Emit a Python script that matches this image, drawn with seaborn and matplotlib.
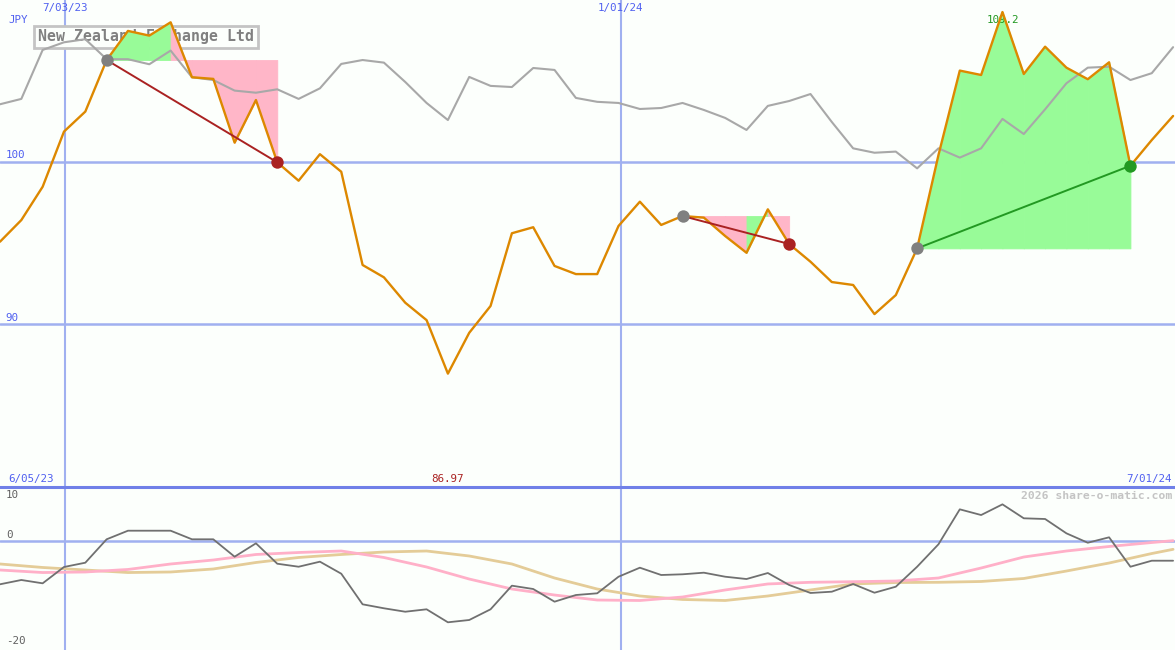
"""
Weekly share price chart for New Zealand Exchange Ltd, with trade markers and a lower oscillator panel.
"""
# Import Standard Libraries
import matplotlib
matplotlib.use('Agg')
import matplotlib.pyplot as plt
import matplotlib.transforms as mtransforms
import seaborn as sns

# Weekly closing price (JPY)
price = [95.08, 96.41, 98.46, 101.85, 103.08, 106.25, 108.04, 107.75, 108.57, 105.19,
         105.09, 101.17, 103.79, 99.96, 98.83, 100.46, 99.38, 93.65, 92.89, 91.33,
         90.26, 86.97, 89.48, 91.13, 95.60, 95.97, 93.59, 93.09, 93.09, 96.05,
         97.54, 96.11, 96.66, 96.56, 95.43, 94.40, 97.07, 94.94, 93.85, 92.60,
         92.42, 90.63, 91.80, 94.67, 100.41, 105.60, 105.33, 109.20, 105.39, 107.07,
         105.78, 105.07, 106.11, 99.75, 101.33, 102.81]

# Comparison index, rescaled onto the price axis
index_line = [103.53, 103.86, 106.87, 107.34, 107.53, 106.30, 106.30, 105.99, 106.83, 105.19,
              105.02, 104.37, 104.24, 104.45, 103.86, 104.51, 106.01, 106.25, 106.09, 104.90,
              103.61, 102.56, 105.21, 104.66, 104.59, 105.76, 105.64, 103.92, 103.68, 103.61,
              103.24, 103.30, 103.61, 103.18, 102.69, 101.95, 103.43, 103.73, 104.16, 102.44,
              100.82, 100.55, 100.62, 99.59, 100.82, 100.25, 100.82, 102.63, 101.70, 103.22,
              104.82, 105.78, 105.84, 105.02, 105.44, 107.04]

# Lower panel oscillator
momentum = [-8.06, -7.26, -7.88, -4.84, -4.04, 0.32, 1.92, 1.92, 1.92, 0.32,
            0.32, -2.92, -0.43, -4.23, -4.79, -3.85, -6.09, -11.79, -12.53, -13.17,
            -12.72, -15.14, -14.71, -12.72, -8.32, -8.94, -11.30, -10.06, -9.74, -6.65,
            -4.97, -6.33, -6.20, -5.90, -6.65, -7.08, -5.96, -8.19, -9.68, -9.44,
            -8.01, -9.63, -8.51, -4.79, -0.61, 5.90, 4.84, 6.83, 4.23, 4.10,
            1.43, -0.32, 0.69, -4.79, -3.67, -3.67]

# Smoothed averages, read every second week
smooth_weeks = [0, 2, 4, 6, 8, 10, 12, 14, 16, 18, 20, 22, 24, 26, 28,
                30, 32, 34, 36, 38, 40, 42, 44, 46, 48, 50, 52, 54, 55]
fast_avg = [-5.40, -5.87, -5.77, -5.30, -4.28, -3.54, -2.51, -2.14, -1.86, -3.07,
            -4.84, -7.08, -8.94, -10.06, -10.99, -11.08, -10.43, -9.12, -8.00, -7.69,
            -7.58, -7.45, -6.89, -5.03, -2.98, -1.86, -1.02, -0.28, 0.06]
slow_avg = [-4.28, -4.93, -5.40, -5.87, -5.77, -5.21, -4.00, -3.07, -2.51, -2.05,
            -1.86, -2.79, -4.28, -6.89, -8.94, -10.24, -10.89, -11.08, -10.24, -9.12,
            -8.00, -7.73, -7.69, -7.54, -6.98, -5.59, -4.10, -2.33, -1.55]

# Trades as (entry week, exit week)
trades = [(5, 13), (32, 37), (43, 53)]

# Date lines and price levels
date_pos = [3.05, 29.1]
date_labels = ['7/03/23', '1/01/24']
price_levels = [90, 100]
range_labels = ['6/05/23', '7/01/24']

weeks = list(range(len(price)))

# Colours
BG = '#fcfffc'
GRID = '#a0b0f0'
LABEL_BLUE = '#5060f0'
ORANGE = '#dd8800'
GREY = '#a8a8a8'
GREEN_FILL = '#98fb98'
PINK_FILL = '#ffb6c8'
LOSS = '#aa2222'
WIN = '#229922'

# Set the theme
sns.set_theme(style='white')
plt.rcParams['font.family'] = ['DejaVu Sans Mono']

W, H = 1175, 650
fig = plt.figure(figsize=(W / 100, H / 100), dpi=100, facecolor=BG)
ax = fig.add_axes([0, 163 / H, 1, 487 / H], facecolor=BG)
ax2 = fig.add_axes([0, 0, 1, 163 / H], facecolor=BG)

for a in (ax, ax2):
    a.set_xlim(0, 55.09)
    a.set_xticks([])
    a.set_yticks([])
    a.set_xlabel('')
    a.set_ylabel('')
    for s in a.spines.values():
        s.set_visible(False)
    for p in date_pos:
        a.axvline(p, color=GRID, lw=1.5, zorder=1)

ax.set_ylim(80.0, 109.94)
ax2.set_ylim(-20.3, 10.06)

# Price levels
for lvl in price_levels:
    ax.axhline(lvl, color=GRID, lw=1.8, zorder=1)
    ax.annotate(str(lvl), xy=(0.005, lvl), xycoords=('axes fraction', 'data'),
                xytext=(0, 1), textcoords='offset points', va='bottom', ha='left',
                fontsize=7.8, color=LABEL_BLUE)

# Title box
ax.text(38 / W, 1 - 37 / 487, 'New Zealand Exchange Ltd', transform=ax.transAxes,
        ha='left', va='center', fontsize=10.7, fontweight='bold', color='#808080',
        bbox=dict(boxstyle='square,pad=0.24', fc=BG, ec='#c4c4c4', lw=2), zorder=1.5)

# Trade fills, coloured per segment
for start, end in trades:
    level = price[start]
    for i in range(start, end):
        colour = GREEN_FILL if price[i + 1] > level else PINK_FILL
        ax.fill_between(weeks[i:i + 2], price[i:i + 2], level, facecolor=colour,
                        edgecolor=colour, lw=0.6, antialiased=False, zorder=2)

# Comparison index and price
sns.lineplot(x=weeks, y=index_line, ax=ax, color=GREY, linewidth=1.5, zorder=3)
sns.lineplot(x=weeks, y=price, ax=ax, color=ORANGE, linewidth=1.7, zorder=4)

# Trade lines and markers
for start, end in trades:
    colour = WIN if price[end] > price[start] else LOSS
    sns.lineplot(x=[weeks[start], weeks[end]], y=[price[start], price[end]], ax=ax,
                 color=colour, linewidth=1.4, zorder=5)
    ax.scatter([weeks[start]], [price[start]], s=80, color='#808080', lw=0, zorder=6)
    ax.scatter([weeks[end]], [price[end]], s=80, color=colour, lw=0, zorder=6)

# High and low labels
hi = price.index(max(price))
lo = price.index(min(price))
ax.annotate(f'{max(price):.1f}', xy=(weeks[hi], 1 - 20 / 487),
            xycoords=('data', 'axes fraction'), ha='center', va='center',
            fontsize=7.8, color=WIN, zorder=3.5)
ax.annotate(f'{min(price):.2f}', xy=(weeks[lo], 8 / 487),
            xycoords=('data', 'axes fraction'), ha='center', va='center',
            fontsize=7.8, color=LOSS)

# Date labels
trans = mtransforms.blended_transform_factory(ax.transData, ax.transAxes)
for p, lab in zip(date_pos, date_labels):
    ax.text(p, 1 - 8 / 487, lab, transform=trans, ha='center', va='center',
            fontsize=7.8, color=LABEL_BLUE)
ax.text(8 / W, 1 - 20 / 487, 'JPY', transform=ax.transAxes, ha='left', va='center',
        fontsize=7.8, color=LABEL_BLUE)
ax.text(8 / W, 8 / 487, range_labels[0], transform=ax.transAxes, ha='left',
        va='center', fontsize=7.8, color=LABEL_BLUE)
ax.text(1 - 3 / W, 8 / 487, range_labels[1], transform=ax.transAxes, ha='right',
        va='center', fontsize=7.8, color=LABEL_BLUE)

# Lower panel
ax2.spines['top'].set_visible(True)
ax2.spines['top'].set_color('#7080e8')
ax2.spines['top'].set_linewidth(2.2)
ax2.axhline(0, color=GRID, lw=1.8, zorder=1)
sns.lineplot(x=smooth_weeks, y=slow_avg, ax=ax2, color='#e4cc98', linewidth=2, zorder=2)
sns.lineplot(x=smooth_weeks, y=fast_avg, ax=ax2, color='#ffb0c8', linewidth=2, zorder=3)
sns.lineplot(x=weeks, y=momentum, ax=ax2, color='#707070', linewidth=1.3, zorder=4)

ax2.text(6 / W, 1 - 8 / 163, '10', transform=ax2.transAxes, ha='left', va='center',
         fontsize=7.8, color='#606060')
ax2.annotate('0', xy=(6 / W, 0), xycoords=('axes fraction', 'data'),
             xytext=(0, 1), textcoords='offset points', ha='left', va='bottom',
             fontsize=7.8, color='#606060')
ax2.text(6 / W, 9 / 163, '-20', transform=ax2.transAxes, ha='left', va='center',
         fontsize=7.8, color='#606060')
ax2.text(1 - 3 / W, 1 - 9 / 163, '2026 share-o-matic.com', transform=ax2.transAxes,
         ha='right', va='center', fontsize=8.2, fontweight='bold', color='#c4c4c4')

fig.savefig('out.png', dpi=100, facecolor=BG)
